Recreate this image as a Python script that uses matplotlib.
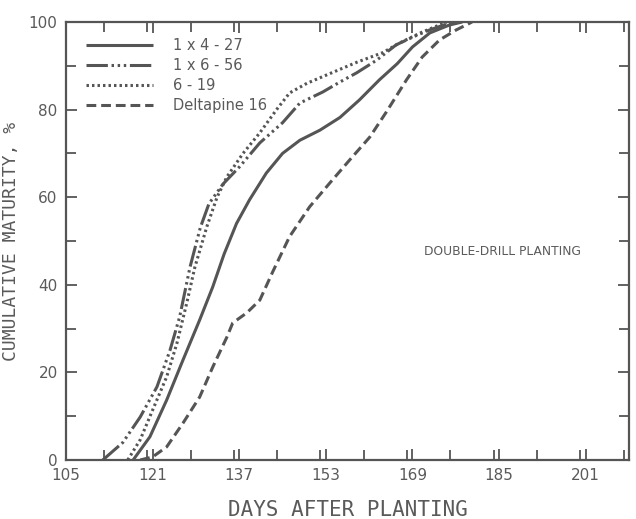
import matplotlib
matplotlib.use("Agg")
import matplotlib.pyplot as plt
from matplotlib.ticker import MultipleLocator, FixedLocator

# ---- data ----
labels = ["1 x 4 - 27", "1 x 6 - 56", "6 - 19", "Deltapine 16"]

x_1x4_27 = [117.4, 120.5, 123.6, 126.6, 129.7, 132.1, 134.2, 136.5, 138.9, 142.0, 145.0,
            148.2, 151.9, 155.6, 159.2, 162.9, 166.2, 169.0, 172.2, 175.8, 178.2]
y_1x4_27 = [0, 5.3, 13.7, 22.8, 32, 39.5, 47, 54, 59.4, 65.5, 70,
            73, 75.3, 78.2, 82.2, 86.8, 90.5, 94.3, 97.5, 99.3, 100]

x_1x6_56 = [111.8, 115.5, 118.7, 121.8, 124.2, 126.0, 127.9, 129.8, 131.4, 134.0, 137.1,
            140.8, 145.0, 148.2, 152.4, 155.6, 158.7, 162.4, 166.0, 169.5, 172.2, 176.4]
y_1x6_56 = [0, 4, 9.8, 16.7, 25, 32.7, 44, 53, 58.5, 63, 67,
            72.4, 77, 81.5, 84, 86.3, 88.4, 91.3, 94.8, 96.8, 98.2, 100]

x_6_19 = [116.4, 118.7, 121.0, 123.6, 125.5, 127.3, 128.8, 131.0, 132.9, 134.7, 137.7,
          140.8, 143.9, 146.3, 149.5, 153.7, 158.7, 163.5, 166.6, 170.8, 175.3]
y_6_19 = [0, 4.6, 11.4, 19, 26.7, 35.8, 44, 53.2, 60, 64.6, 70,
          74.7, 80, 83.8, 86, 88.2, 90.8, 93, 95.2, 97.7, 100]

x_dpl16 = [118.7, 121.0, 123.6, 126.6, 129.7, 132.1, 134.7, 135.8, 138.4, 140.8, 143.2,
           146.3, 150.0, 153.7, 157.4, 161.1, 164.2, 167.9, 170.8, 174.0, 177.1, 180.0]
y_dpl16 = [0, 0.7, 3, 8.4, 14.4, 21.2, 28, 31.3, 33.6, 36.5, 43,
           51, 57.8, 63.2, 68.5, 73.7, 79.5, 86.8, 92, 95.9, 98.2, 100]

x_ticklabels = [105, 121, 137, 153, 169, 185, 201]
y_ticklabels = [0, 20, 40, 60, 80, 100]

# ---- style ----
ink = "#555555"
txt = "#5a5a5a"

fig = plt.figure(figsize=(6.36, 5.19), dpi=100)
ax = fig.add_axes([66/636, 59/519, (629-66)/636, (460-22)/519])

lw = 2.2
ax.plot(x_1x4_27, y_1x4_27, color=ink, lw=lw, solid_capstyle="butt", label=labels[0])
ax.plot(x_1x6_56, y_1x6_56, color=ink, lw=lw, dashes=(7, 1.2, 0.8, 1.2, 0.8, 1.2, 0.8, 1.2),
        label=labels[1])
ax.plot(x_6_19, y_6_19, color=ink, lw=lw, dashes=(0.8, 1.0), label=labels[2])
ax.plot(x_dpl16, y_dpl16, color=ink, lw=lw, dashes=(3.2, 1.6), label=labels[3])

ax.set_xlim(105, 209)
ax.set_ylim(0, 100)
ax.xaxis.set_major_locator(FixedLocator(x_ticklabels))
ax.xaxis.set_minor_locator(MultipleLocator(8))
ax.yaxis.set_major_locator(FixedLocator(y_ticklabels))
ax.yaxis.set_minor_locator(MultipleLocator(10))
ax.set_xticklabels([str(v) for v in x_ticklabels])
ax.set_yticklabels([str(v) for v in y_ticklabels])

ax.tick_params(which="both", direction="in", top=True, right=True, color=ink,
               width=1.3, labelcolor=txt, labelsize=11)
ax.tick_params(which="major", length=8, pad=6)
ax.tick_params(which="minor", length=7)
for s in ax.spines.values():
    s.set_color(ink)
    s.set_linewidth(1.6)

ax.set_xlabel("DAYS AFTER PLANTING", family="DejaVu Sans Mono", fontsize=15,
              color=txt, labelpad=12)
ax.set_ylabel("CUMULATIVE MATURITY, %", family="DejaVu Sans Mono", fontsize=13,
              color=txt, labelpad=6)

ax.text(0.635, 0.475, "DOUBLE-DRILL PLANTING", transform=ax.transAxes,
        fontsize=8.8, color=txt, ha="left", va="center")

leg = ax.legend(loc="upper left", bbox_to_anchor=(0.012, 0.993), frameon=False,
                fontsize=10.5, handlelength=4.6, handletextpad=1.4, labelspacing=0.34,
                labelcolor=txt)

fig.savefig("out.png", dpi=100, facecolor="white")
